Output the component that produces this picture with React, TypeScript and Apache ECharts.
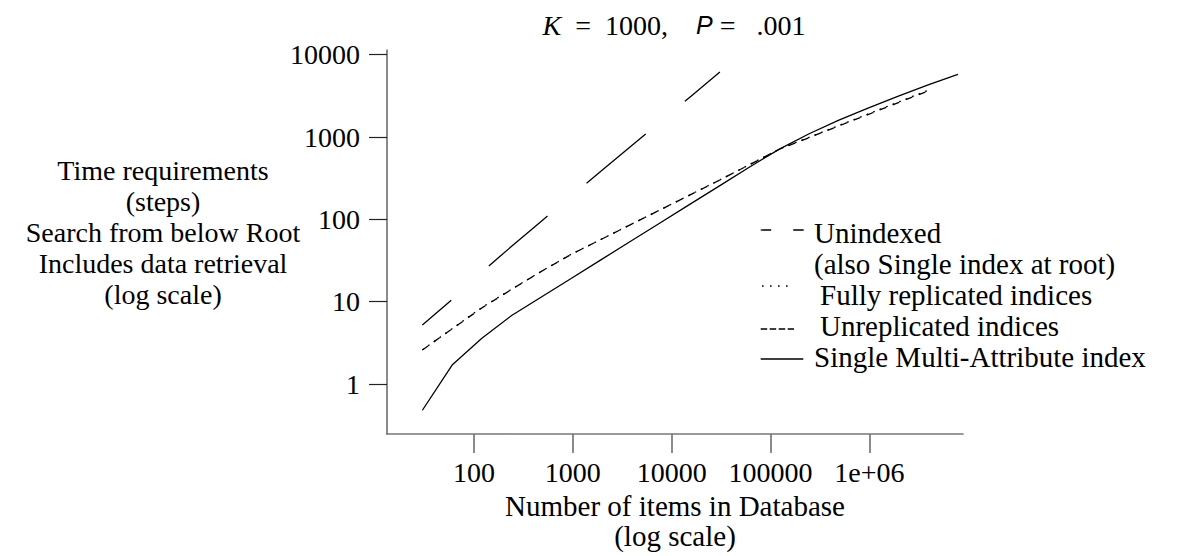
import React, { useEffect, useRef } from 'react';
import * as echarts from 'echarts';

// ---- data ----
const nItems = [30, 60, 120, 240, 480, 960, 1920, 3840, 7680, 15360, 30720, 61440, 122880, 245760, 491520, 983040, 1966080, 3932160, 7864320];
const unindexed = [5.2, 10.6, 23, 47, 95, 192, 384, 768, 1536, 3072, 6144];
const fullyReplicated = [2.6, 4.7, 8.5, 14.2, 23.4, 37.6, 57, 86.5, 131, 199, 302, 464, 714, 992, 1380, 1915, 2660, 3700];
const unreplicated = [2.59, 4.67, 8.4, 14.1, 23.3, 37.5, 56.9, 86.3, 130.7, 198, 300.6, 462, 710, 984, 1364, 1889, 2618, 3630];
const singleMulti = [0.48, 1.7, 3.6, 6.8, 11.4, 19.1, 32.2, 54.2, 91, 153, 257, 433, 713, 1096, 1603, 2266, 3142, 4295, 5781];

const seriesNames = ['Unindexed', 'Fully replicated indices', 'Unreplicated indices', 'Single Multi-Attribute index'];
const legendLines = ['Unindexed', '(also Single index at root)', 'Fully replicated indices', 'Unreplicated indices', 'Single Multi-Attribute index'];

const xTickValues = [100, 1000, 10000, 100000, 1000000];
const xTickLabels = ['100', '1000', '10000', '100000', '1e+06'];
const yTickValues = [1, 10, 100, 1000, 10000];
const yTickLabels = ['1', '10', '100', '1000', '10000'];

const xRange = [13.16, 8.86e6];
const yRange = [0.247, 11404];

const titleParts = { k: 'K', kVal: '1000', p: 'P', pVal: '.001' };
const yTitleLines = ['Time requirements', '(steps)', 'Search from below Root', 'Includes data retrieval', '(log scale)'];
const xTitleLines = ['Number of items in Database', '(log scale)'];

// ---- styles ----
const SERIF = "'Liberation Serif', 'Times New Roman', Times, serif";
const SANS = "'Liberation Sans', Arial, Helvetica, sans-serif";
const NUM_SIZE = 28;
const WORD_SIZE = 29;
const LW = 1.3;

const lg = Math.log10;
const toPts = (vals: number[]) => vals.map((v, i) => [lg(nItems[i]), lg(v)]);
const findLabel = (vals: number[], labels: string[]) => (v: number) => {
  const i = vals.findIndex((t) => Math.abs(lg(t) - v) < 1e-6);
  return i >= 0 ? labels[i] : '';
};

export default function App() {
  const ref = useRef<HTMLDivElement>(null);
  useEffect(() => {
    const chart = echarts.init(ref.current!, null, { renderer: 'svg' });
    const gridLeft = 387;
    const gridRight = 1179 - 963;
    const gridTop = 50;
    const gridBottom = 556 - 434;

    const legendRowY = [233, 264, 295, 326, 357];
    const legendTextX = [814, 814, 820, 820, 814];
    const iconX = 760.7;

    const option: any = {
      animation: false,
      backgroundColor: '#fff',
      grid: { left: gridLeft, right: gridRight, top: gridTop, bottom: gridBottom, containLabel: false },
      xAxis: {
        type: 'value',
        min: lg(xRange[0]),
        max: lg(xRange[1]),
        splitLine: { show: false },
        axisLine: { show: true, onZero: false, lineStyle: { color: '#777', width: 1.7 } },
        axisTick: { show: true, length: 19, lineStyle: { color: '#777', width: 1.7 }, customValues: xTickValues.map(lg) },
        axisLabel: {
          customValues: xTickValues.map(lg),
          formatter: findLabel(xTickValues, xTickLabels),
          margin: 24,
          color: '#000',
          fontSize: NUM_SIZE,
          fontFamily: SERIF,
          lineHeight: 28,
        },
        name: xTitleLines.join('\n'),
        nameLocation: 'middle',
        nameGap: 54,
        nameTextStyle: { color: '#000', fontSize: WORD_SIZE, fontFamily: SERIF, lineHeight: 30 },
      },
      yAxis: {
        type: 'value',
        min: lg(yRange[0]),
        max: lg(yRange[1]),
        splitLine: { show: false },
        axisLine: { show: true, onZero: false, lineStyle: { color: '#777', width: 1.7 } },
        axisTick: { show: true, length: 18, lineStyle: { color: '#222', width: 1.2 }, customValues: yTickValues.map(lg) },
        axisLabel: {
          customValues: yTickValues.map(lg),
          formatter: findLabel(yTickValues, yTickLabels),
          margin: 27,
          color: '#000',
          fontSize: NUM_SIZE,
          fontFamily: SERIF,
        },
      },
      series: [
        {
          name: seriesNames[0], type: 'line', data: toPts(unindexed), showSymbol: false,
          lineStyle: { color: '#000', width: LW, type: [77, 51], dashOffset: 39 },
        },
        {
          name: seriesNames[1], type: 'line', data: toPts(fullyReplicated), showSymbol: false,
          lineStyle: { color: '#000', width: LW, type: [1.8, 5.2] },
        },
        {
          name: seriesNames[2], type: 'line', data: toPts(unreplicated), showSymbol: false,
          lineStyle: { color: '#000', width: LW, type: [7, 7] },
        },
        {
          name: seriesNames[3], type: 'line', data: toPts(singleMulti), showSymbol: false,
          lineStyle: { color: '#000', width: LW, type: 'solid' },
        },
      ],
      graphic: [
        {
          type: 'text', x: 674, y: 25,
          style: {
            text: `{k|${titleParts.k}}  =  ${titleParts.kVal},    {p|${titleParts.p}} =   ${titleParts.pVal}`,
            align: 'center', verticalAlign: 'middle', fill: '#000',
            fontSize: NUM_SIZE, fontFamily: SERIF,
            rich: {
              k: { fontStyle: 'italic', fontFamily: SERIF, fontSize: NUM_SIZE, fill: '#000' },
              p: { fontStyle: 'italic', fontFamily: SANS, fontSize: 25, fill: '#000' },
            },
          },
        },
        {
          type: 'text', x: 163, y: 232,
          style: {
            text: yTitleLines.join('\n'), align: 'center', verticalAlign: 'middle',
            fill: '#000', fontSize: 28, fontFamily: SERIF, lineHeight: 31,
          },
        },
        ...legendLines.map((t, i) => ({
          type: 'text', x: legendTextX[i], y: legendRowY[i],
          style: { text: t, align: 'left', verticalAlign: 'middle', fill: '#000', fontSize: WORD_SIZE, fontFamily: SERIF },
        })),
        {
          type: 'line', shape: { x1: iconX, y1: legendRowY[0] - 3, x2: 804, y2: legendRowY[0] - 3 },
          style: { stroke: '#000', lineWidth: LW, lineDash: [10.5, 22] },
        },
        {
          type: 'line', shape: { x1: 762, y1: legendRowY[2] - 9, x2: 788, y2: legendRowY[2] - 9 },
          style: { stroke: '#000', lineWidth: LW, lineDash: [1.6, 6.4] },
        },
        {
          type: 'line', shape: { x1: iconX, y1: legendRowY[3] + 3, x2: 794, y2: legendRowY[3] + 3 },
          style: { stroke: '#000', lineWidth: LW, lineDash: [6.5, 2.5] },
        },
        {
          type: 'line', shape: { x1: iconX, y1: legendRowY[4] + 2, x2: 803.3, y2: legendRowY[4] + 2 },
          style: { stroke: '#000', lineWidth: LW },
        },
      ],
    };
    chart.setOption(option);
    return () => chart.dispose();
  }, []);
  return (
    <div
      ref={ref}
      style={{ position: 'fixed', left: 0, top: 0, width: 1179, height: 556, background: '#fff' }}
    />
  );
}
